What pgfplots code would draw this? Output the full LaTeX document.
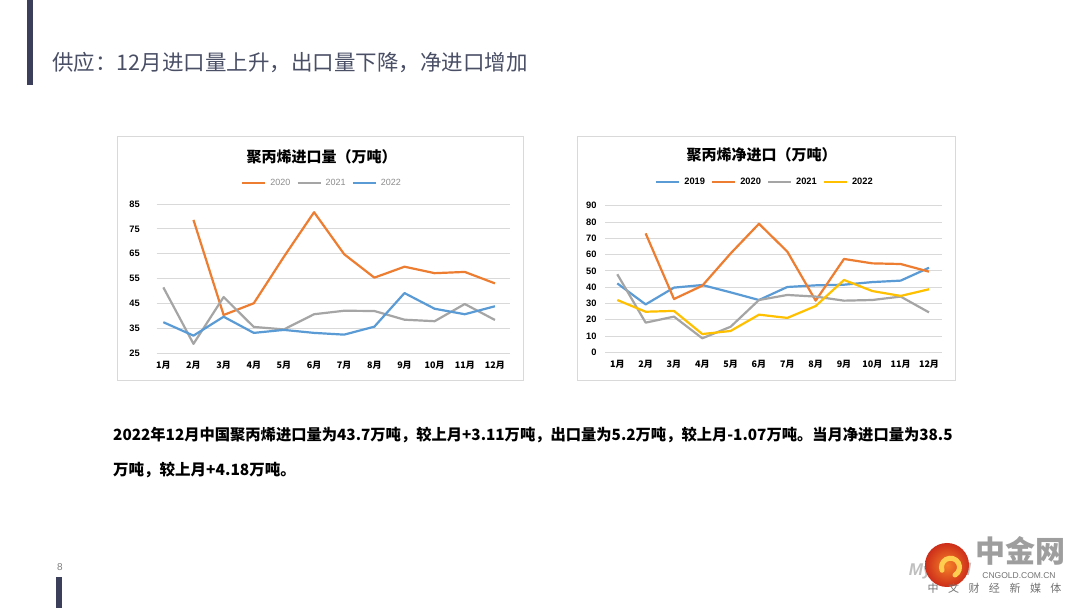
\documentclass[border=0pt]{standalone}
\usepackage{graphicx}
\usepackage{pgfplots}
\pgfplotsset{compat=1.18}
\usepackage{fontspec}
\setmainfont{Liberation Sans}
\newfontfamily\cjk{Noto Sans CJK SC}
\definecolor{cOr}{HTML}{ED7D31}
\definecolor{cGr}{HTML}{A5A5A5}
\definecolor{cBl}{HTML}{5B9BD5}
\definecolor{cYe}{HTML}{FFC000}
\definecolor{gridc}{HTML}{D9D9D9}
\definecolor{barc}{HTML}{3B3F5A}
\definecolor{titlec}{HTML}{4A4F66}
\definecolor{legc}{HTML}{8C8C8C}
\definecolor{logoin}{RGB}{245,130,40}
\definecolor{logoout}{RGB}{205,45,25}
\definecolor{logoye}{RGB}{255,205,80}
\begin{document}
\begin{tikzpicture}[x=1pt,y=1pt]
\path[use as bounding box, fill=white] (0,0) rectangle (1080,608);
% slide decorations
\fill[barc] (27,608) rectangle (33,523);
\fill[barc] (56,0) rectangle (62,31.3);
\node[font=\fontsize{10}{10}\selectfont, text=gray, inner sep=0] at (60,40.7) {8};
\node[anchor=west, font=\cjk\fontsize{21.5}{21.5}\selectfont, text=titlec, inner sep=0] at (52,545) {供应：12月进口量上升，出口量下降，净进口增加};
% chart frames
\draw[gridc, line width=0.8pt] (117.7,471.3) rectangle (523.3,228);
\draw[gridc, line width=0.8pt] (577.7,471.3) rectangle (955,228);
\node[font=\cjk\bfseries\fontsize{15}{15}\selectfont, inner sep=0] at (321.7,451.3) {聚丙烯进口量（万吨）};
\node[font=\cjk\bfseries\fontsize{15}{15}\selectfont, inner sep=0] at (761.7,453) {聚丙烯净进口（万吨）};

\pgfplotsset{
  slidechart/.style={
    scale only axis, anchor=south west,
    axis line style={draw=none},
    major tick length=0pt,
    ymajorgrids, grid style={gridc, line width=0.8pt},
    xtick={0,...,11},
    xticklabels={1月,2月,3月,4月,5月,6月,7月,8月,9月,10月,11月,12月},
    xticklabel style={font=\cjk\bfseries\fontsize{9}{9}\selectfont, anchor=center, inner sep=0pt, yshift=-11.7pt},
    yticklabel style={font=\bfseries\fontsize{9.3}{9.3}\selectfont, anchor=east, inner sep=0pt},
    /pgf/number format/assume math mode=true,
    legend columns=-1,
    legend style={draw=none, fill=none, anchor=center, inner sep=0pt},
    legend image code/.code={\draw[##1, line width=2.2pt] (0pt,0pt) -- (23pt,0pt);},
    every axis plot/.append style={line width=2.2pt, line join=round, mark=none},
  }
}

\begin{axis}[slidechart,
  at={(156.7pt,254.7pt)}, width=353.3pt, height=149.3pt,
  xmin=-0.22, xmax=11.5, ymin=25, ymax=85, ytick={25,35,...,85},
  yticklabel style={xshift=-16.7pt},
  legend style={at={(0.468,1.143)}, font=\fontsize{9}{9}\selectfont, text=legc,
    /tikz/every odd column/.append style={column sep=2pt},
    /tikz/every even column/.append style={column sep=4pt}},
]
\addplot[cOr] coordinates {(1,78.6) (2,40.4) (3,45.1) (4,63.8) (5,81.7) (6,64.8) (7,55.4) (8,59.8) (9,57.2) (10,57.7) (11,53.1)};
\addplot[cGr] coordinates {(0,51.5) (1,28.8) (2,47.6) (3,35.6) (4,34.6) (5,40.7) (6,42.1) (7,42.0) (8,38.5) (9,37.9) (10,44.8) (11,38.4)};
\addplot[cBl] coordinates {(0,37.5) (1,32.1) (2,39.7) (3,33.2) (4,34.4) (5,33.2) (6,32.5) (7,35.7) (8,49.2) (9,42.9) (10,40.7) (11,43.9)};
\legend{2020,2021,2022}
\end{axis}

\begin{axis}[slidechart,
  at={(605pt,255.7pt)}, width=336.7pt, height=146.6pt,
  xmin=-0.434, xmax=11.448, ymin=0, ymax=90, ytick={0,10,...,90},
  yticklabel style={xshift=-8.3pt},
  legend style={at={(0.475,1.164)}, font=\bfseries\fontsize{9.3}{9.3}\selectfont,
    /tikz/every odd column/.append style={column sep=2pt},
    /tikz/every even column/.append style={column sep=4pt}},
]
\addplot[cBl] coordinates {(0,42.3) (1,29.4) (2,39.7) (3,41.3) (4,36.8) (5,32.1) (6,40.1) (7,41.1) (8,41.5) (9,43.1) (10,44.0) (11,51.9)};
\addplot[cOr] coordinates {(1,73.0) (2,32.7) (3,40.9) (4,60.7) (5,78.9) (6,61.8) (7,31.7) (8,57.3) (9,54.6) (10,54.2) (11,49.5)};
\addplot[cGr] coordinates {(0,47.9) (1,18.2) (2,21.9) (3,8.6) (4,15.7) (5,32.1) (6,35.2) (7,34.2) (8,31.7) (9,32.1) (10,34.2) (11,24.5)};
\addplot[cYe] coordinates {(0,32.1) (1,24.9) (2,25.4) (3,11.2) (4,13.1) (5,23.1) (6,21.1) (7,28.4) (8,44.4) (9,37.6) (10,34.6) (11,38.7)};
\legend{2019,2020,2021,2022}
\end{axis}

% body text
\node[anchor=west, font=\cjk\bfseries\fontsize{15.5}{15.5}\selectfont, inner sep=0] at (113,173) {\scalebox{0.986}[1]{2022年12月中国聚丙烯进口量为43.7万吨，较上月+3.11万吨，出口量为5.2万吨，较上月-1.07万吨。当月净进口量为38.5}};
\node[anchor=west, font=\cjk\bfseries\fontsize{15.5}{15.5}\selectfont, inner sep=0] at (113,138) {万吨，较上月+4.18万吨。};

% logo
\node[font=\bfseries\itshape\fontsize{17}{17}\selectfont, text=black!25, inner sep=0] at (940,37) {Mysteel};
\shade[inner color=logoin, outer color=logoout] (947,43) circle (22);
\draw[logoye, line width=5pt, line cap=round] (955,33) arc (-60:200:9);
\node[font=\cjk\bfseries\fontsize{30}{30}\selectfont, text=black!38, inner sep=0] at (1020,57.5) {中金网};
\node[font=\fontsize{8.5}{8.5}\selectfont, text=black!55, inner sep=0] at (1019,32) {CNGOLD.COM.CN};
\node[font=\cjk\fontsize{11}{11}\selectfont, text=black!55, inner sep=0] at (994.5,20) {中\hspace{9.5pt}文\hspace{9.5pt}财\hspace{9.5pt}经\hspace{9.5pt}新\hspace{9.5pt}媒\hspace{9.5pt}体};
\end{tikzpicture}
\end{document}
